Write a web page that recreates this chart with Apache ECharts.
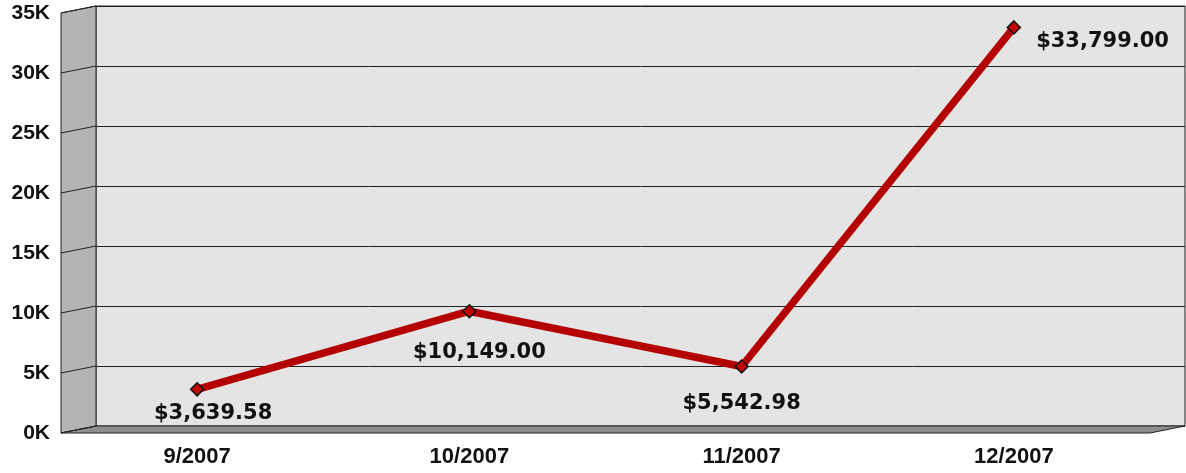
<!DOCTYPE html>
<html>
<head>
<meta charset="utf-8">
<script src="https://cdn.jsdelivr.net/npm/echarts@6/dist/echarts.min.js"></script>
<style>
  html, body { margin: 0; padding: 0; background: #fff; }
  #chart { width: 1186px; height: 473px; }
</style>
</head>
<body>
<div id="chart"></div>
<script>
// 数据
const months = ['9/2007', '10/2007', '11/2007', '12/2007'];
const sales = [3639.58, 10149.00, 5542.98, 33799.00];
const yTicks = [0, 5000, 10000, 15000, 20000, 25000, 30000, 35000];

// 3D 深度偏移
const DEPTH_X = -35;
const DEPTH_Y = 7;

// 每个点的标签摆放
const labelPlace = [
  { position: 'bottom', distance: 6, offset: [16, 0] },
  { position: 'bottom', distance: 24, offset: [10, 0] },
  { position: 'bottom', distance: 19, offset: [0, 0] },
  { position: 'right', distance: 15, offset: [0, 14] }
];

const money = v => '$' + v.toLocaleString('en-US', { minimumFractionDigits: 2, maximumFractionDigits: 2 });

const chart = echarts.init(document.getElementById('chart'));

// 画左侧墙和地板
function renderWalls(params, api) {
  const bw = api.size([1, 0])[0];
  const left = api.coord([0, 0])[0] - bw / 2;
  const right = left + months.length * bw;
  const yTop = api.coord([0, yTicks[yTicks.length - 1]])[1];
  const yBot = api.coord([0, 0])[1];
  const children = [
    {
      type: 'polygon',
      shape: { points: [[left, yTop], [left, yBot], [left + DEPTH_X, yBot + DEPTH_Y], [left + DEPTH_X, yTop + DEPTH_Y]] },
      style: { fill: '#b4b4b4', stroke: '#222', lineWidth: 1 }
    },
    {
      type: 'polygon',
      shape: { points: [[left, yBot], [right, yBot], [right + DEPTH_X, yBot + DEPTH_Y], [left + DEPTH_X, yBot + DEPTH_Y]] },
      style: { fill: '#8e8e8e', stroke: '#222', lineWidth: 1 }
    }
  ];
  yTicks.forEach(v => {
    const y = api.coord([0, v])[1];
    children.push({
      type: 'line',
      shape: { x1: left, y1: y, x2: left + DEPTH_X, y2: y + DEPTH_Y },
      style: { stroke: '#222', lineWidth: 1 }
    });
  });
  return { type: 'group', children };
}

const option = {
  animation: false,
  backgroundColor: '#fff',
  grid: [
    { left: 96, right: 1, top: 6, bottom: 47, show: true, backgroundColor: '#e4e4e4', borderColor: '#222', borderWidth: 1 },
    { left: 61, right: 36, top: 13, bottom: 40 }
  ],
  xAxis: [
    { type: 'category', gridIndex: 0, data: months, axisLine: { show: false }, axisTick: { show: false }, axisLabel: { show: false } },
    {
      type: 'category', gridIndex: 1, data: months,
      axisLine: { show: false }, axisTick: { show: false },
      axisLabel: { margin: 13, color: '#111', fontFamily: 'Liberation Sans', fontWeight: 'bold', fontSize: 22 }
    }
  ],
  yAxis: [
    {
      type: 'value', gridIndex: 0, min: 0, max: 35000, interval: 5000,
      axisLine: { show: false }, axisTick: { show: false }, axisLabel: { show: false },
      splitLine: { show: true, lineStyle: { color: '#222', width: 1 } }
    },
    {
      type: 'value', gridIndex: 1, min: 0, max: 35000, interval: 5000,
      axisLine: { show: false }, axisTick: { show: false }, splitLine: { show: false },
      axisLabel: {
        margin: 11, color: '#111', fontFamily: 'Liberation Sans', fontWeight: 'bold', fontSize: 21,
        formatter: v => (v / 1000) + 'K'
      }
    }
  ],
  series: [
    {
      type: 'custom',
      xAxisIndex: 0, yAxisIndex: 0,
      data: [[0, 0]],
      renderItem: renderWalls,
      silent: true,
      z: 1
    },
    {
      type: 'line',
      xAxisIndex: 1, yAxisIndex: 1,
      data: sales.map((v, i) => ({ value: v, label: labelPlace[i] })),
      lineStyle: { color: '#b40000', width: 7.5 },
      symbol: 'diamond',
      symbolSize: 13,
      itemStyle: { color: '#c00000', borderColor: '#111', borderWidth: 1.5 },
      label: {
        show: true,
        formatter: p => money(p.value),
        color: '#111',
        fontFamily: 'DejaVu Sans',
        fontWeight: 'bold',
        fontSize: 21
      },
      z: 5
    }
  ]
};

chart.setOption(option);
</script>
</body>
</html>
